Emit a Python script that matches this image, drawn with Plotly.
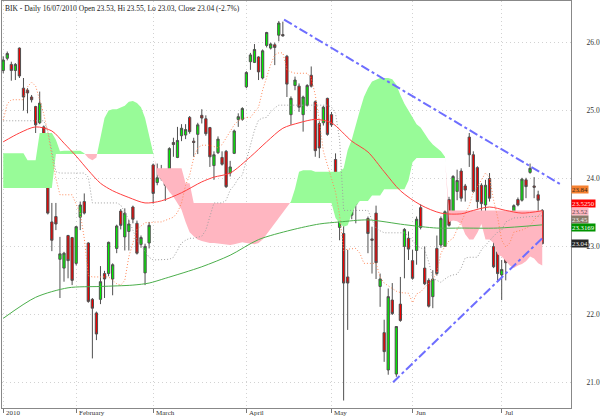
import plotly.graph_objects as go

# ---------------- data ----------------
tick_idx = [0, 18, 37, 60, 81, 101, 123]
tick_text = ["2010", "February", "March", "April", "May", "Jun", "Jul"]
y_ticks = [21, 22, 23, 24, 25, 26]
y_tick_text = ["21.0", "22.0", "23.0", "24.0", "25.0", "26.0"]

opens = [
    25.59, 25.77, 25.68, 25.59, 25.92, 25.33, 25.30, 25.20, 25.06, 24.82,
    24.76, 24.36, 23.36, 23.44, 22.81, 22.68, 23.16, 23.13, 22.75, 23.43,
    23.66, 23.05, 22.22, 22.02, 22.22, 22.60, 22.60, 22.52, 22.97, 23.52,
    23.14, 23.22, 23.58, 23.34, 23.03, 22.61, 23.05, 24.20, 23.94, 24.10,
    24.04, 24.14, 24.53, 24.31, 24.63, 24.64, 24.90, 24.55, 24.65, 24.93,
    24.88, 24.75, 24.19, 24.38, 24.31, 24.40, 24.08, 24.37, 24.87, 24.87,
    25.35, 25.72, 25.71, 25.79, 25.48, 25.96, 25.92, 25.97, 26.11, 26.12,
    25.80, 24.94, 25.37, 25.36, 24.94, 25.08, 25.52, 25.13, 24.81, 24.82,
    25.18, 24.94, 24.28, 23.28, 23.19, 22.55, 23.46, 23.68, 23.86, 24.05,
    23.41, 23.11, 23.49, 22.41, 21.73, 21.18, 22.21, 21.12, 22.15, 23.00,
    23.12, 22.79, 22.94, 23.57, 22.68, 22.50, 22.26, 22.97, 23.02, 23.00,
    23.69, 23.49, 23.81, 24.11, 23.89, 24.61, 24.35, 24.16, 23.90, 23.61,
    24.00, 23.00, 22.92, 22.58, 22.87, 23.41, 22.85, 23.69, 23.68, 23.98,
    24.09, 23.89, 23.76, 23.53]
highs = [
    25.80, 25.87, 25.72, 25.70, 25.93, 25.48, 25.33, 25.23, 25.07, 25.28,
    24.78, 24.37, 23.64, 23.64, 23.14, 22.92, 23.17, 23.14, 23.30, 23.66,
    23.78, 23.06, 22.24, 22.04, 22.71, 22.64, 23.07, 22.75, 23.32, 23.55,
    23.56, 23.39, 23.60, 23.38, 23.16, 23.04, 23.36, 24.22, 24.22, 24.20,
    24.06, 24.46, 24.60, 24.76, 24.80, 24.80, 24.92, 24.60, 24.82, 25.02,
    24.93, 24.76, 24.40, 24.62, 24.40, 24.42, 24.26, 24.72, 24.96, 25.05,
    25.58, 25.85, 25.98, 25.80, 25.90, 26.16, 26.00, 26.00, 26.32, 26.31,
    25.82, 25.21, 25.50, 25.40, 25.22, 25.39, 25.65, 25.15, 24.85, 25.07,
    25.19, 24.98, 24.37, 23.49, 23.40, 22.95, 24.17, 23.93, 24.09, 24.10,
    23.44, 23.29, 23.60, 22.60, 21.92, 22.38, 22.46, 21.82, 22.55, 23.27,
    23.22, 22.95, 23.44, 23.62, 23.00, 22.53, 22.65, 23.16, 23.44, 23.53,
    23.73, 24.05, 24.13, 24.15, 23.92, 24.67, 24.40, 24.18, 23.93, 23.98,
    24.08, 23.26, 22.95, 22.80, 22.90, 23.45, 23.62, 23.72, 24.01, 24.01,
    24.22, 24.02, 23.82, 23.55]
lows = [
    25.55, 25.74, 25.44, 25.45, 25.48, 25.00, 24.96, 25.12, 24.67, 24.80,
    24.23, 23.47, 22.93, 23.24, 22.24, 22.48, 22.53, 22.43, 22.72, 23.24,
    23.47, 22.17, 21.35, 21.62, 22.15, 22.24, 22.56, 22.28, 22.90, 23.25,
    22.94, 22.94, 23.34, 22.88, 22.98, 22.43, 22.97, 23.63, 23.90, 23.97,
    23.67, 24.11, 24.32, 24.30, 24.55, 24.58, 24.66, 24.32, 24.36, 24.81,
    24.63, 24.17, 23.98, 24.36, 24.19, 23.86, 24.03, 24.36, 24.76, 24.85,
    25.33, 25.60, 25.70, 25.45, 25.46, 25.93, 25.90, 25.67, 26.02, 26.09,
    25.20, 24.79, 25.30, 24.98, 24.69, 25.06, 25.34, 24.32, 24.30, 24.78,
    24.63, 24.76, 23.66, 23.09, 20.73, 21.77, 23.40, 23.34, 23.84, 23.70,
    22.90, 22.60, 22.52, 22.11, 21.30, 21.11, 21.99, 21.08, 21.89, 22.53,
    22.80, 22.51, 22.73, 23.25, 22.43, 22.10, 22.09, 22.57, 22.98, 23.00,
    23.29, 23.47, 23.68, 23.66, 23.66, 24.17, 23.79, 23.56, 23.51, 23.51,
    23.66, 22.68, 22.50, 22.21, 22.50, 23.04, 22.84, 23.59, 23.66, 23.71,
    24.07, 23.71, 23.44, 23.03]
closes = [
    25.745, 25.84, 25.59, 25.68, 25.51, 25.20, 25.26, 25.16, 24.79, 25.11,
    24.52, 23.49, 23.09, 23.33, 22.89, 22.90, 22.79, 22.50, 23.29, 23.61,
    23.49, 22.19, 22.09, 21.71, 22.48, 22.52, 23.06, 22.73, 23.30, 23.31,
    23.49, 23.33, 23.40, 22.90, 23.13, 23.00, 23.31, 23.78, 24.01, 24.00,
    23.90, 24.44, 24.50, 24.56, 24.74, 24.72, 24.69, 24.53, 24.79, 24.89,
    24.66, 24.32, 24.35, 24.58, 24.21, 23.88, 24.17, 24.70, 24.91, 25.03,
    25.56, 25.82, 25.90, 25.57, 25.88, 26.15, 25.98, 25.93, 26.29, 26.10,
    25.39, 25.18, 25.45, 25.05, 25.20, 25.37, 25.36, 24.41, 24.45, 25.05,
    24.65, 24.79, 23.79, 23.38, 22.46, 22.46, 24.15, 23.62, 24.08, 23.78,
    23.19, 23.09, 22.76, 22.52, 21.45, 22.26, 22.01, 21.82, 21.91, 23.25,
    22.96, 22.53, 23.40, 23.28, 22.45, 22.12, 22.52, 22.60, 23.41, 23.51,
    23.31, 24.03, 23.97, 23.71, 23.83, 24.35, 23.81, 23.66, 23.63, 23.90,
    23.71, 22.70, 22.60, 22.66, 22.76, 23.06, 23.60, 23.61, 23.99, 23.88,
    24.15, 23.87, 23.68, 23.04]

tenkan = [
    24.86, 25.10, 25.16, 25.16, 25.16, 25.16, 25.35, 25.42, 25.36, 25.16,
    24.95, 24.68, 24.35, 24.00, 23.76, 23.76, 23.76, 23.76, 23.62, 23.49,
    23.12, 22.57, 22.55, 22.55, 22.55, 22.55, 22.55, 22.50, 22.45, 22.43,
    22.50, 22.85, 23.05, 23.25, 23.30, 23.35, 23.35, 23.36, 23.36, 23.36,
    23.38, 23.40, 23.43, 23.50, 23.64, 23.90, 24.05, 24.30, 24.45, 24.49,
    24.49, 24.49, 24.47, 24.45, 24.50, 24.60, 24.70, 24.79, 24.85, 24.88,
    24.90, 24.90, 24.98, 25.05, 25.30, 25.50, 25.68, 25.82, 25.85, 25.85,
    25.60, 25.57, 25.55, 25.55, 25.55, 25.55, 25.48, 25.23, 24.85, 24.40,
    24.20, 24.00, 23.80, 23.46, 22.94, 22.96, 22.97, 22.97, 22.90, 22.75,
    22.75, 22.75, 22.75, 22.55, 22.46, 22.42, 22.38, 22.34, 22.32, 22.31,
    22.31, 22.17, 22.30, 22.33, 22.39, 22.45, 22.52, 22.61, 22.90, 23.00,
    23.08, 23.12, 23.25, 23.35, 23.49, 23.60, 23.80, 23.88, 23.98, 24.08,
    24.02, 23.68, 23.43, 23.09, 22.99, 23.05, 23.21, 23.22, 23.24, 23.27,
    23.30, 23.39, 23.45, 23.51]

kijun = [
    24.85, 24.85, 24.85, 24.85, 24.85, 24.85, 24.85, 24.85, 24.85, 24.85,
    24.85, 24.71, 24.41, 24.10, 24.08, 24.08, 24.08, 24.08, 24.08, 24.08,
    24.08, 24.02, 23.64, 23.64, 23.64, 23.64, 23.64, 23.64, 23.64, 23.61,
    23.50, 23.39, 23.24, 23.09, 23.02, 22.92, 22.84, 22.80, 22.80, 22.80,
    22.81, 22.81, 22.84, 22.95, 23.05, 23.09, 23.12, 23.12, 23.14, 23.15,
    23.24, 23.46, 23.64, 23.64, 23.64, 23.68, 23.83, 23.90, 24.00, 24.05,
    24.27, 24.46, 24.71, 24.86, 24.89, 24.90, 24.98, 25.04, 25.08, 25.08,
    25.08, 25.08, 25.08, 25.08, 25.08, 25.08, 25.08, 25.08, 25.08, 25.08,
    25.08, 25.05, 24.96, 24.57, 23.53, 23.53, 23.53, 23.53, 23.53, 23.53,
    23.53, 23.39, 23.27, 23.23, 23.20, 23.20, 23.20, 23.20, 23.20, 23.20,
    23.15, 23.09, 23.01, 22.98, 22.95, 22.77, 22.53, 22.50, 22.47, 22.52,
    22.56, 22.58, 22.59, 22.68, 22.83, 22.84, 22.84, 22.84, 22.95, 23.02,
    23.09, 23.15, 23.21, 23.24, 23.36, 23.39, 23.42, 23.42, 23.43, 23.43,
    23.44, 23.44, 23.45, 23.45]

span_a = [
    24.37, 24.37, 24.37, 24.37, 24.37, 24.37, 24.27, 24.27, 24.27, 24.67,
    24.67, 24.67, 24.67, 24.57, 24.40, 24.41, 24.41, 24.41, 24.41, 24.41,
    24.37, 24.30, 24.27, 24.31, 24.62, 24.89, 25.00, 25.02, 25.02, 25.04,
    25.07, 25.13, 25.14, 25.11, 25.05, 24.89, 24.64, 24.42, 24.05, 23.98,
    23.89, 23.80, 23.73, 23.64, 23.54, 23.36, 23.21, 23.15, 23.10, 23.08,
    23.06, 23.05, 23.05, 23.04, 23.03, 23.02, 23.02, 23.03, 23.05, 23.06,
    23.05, 23.04, 23.03, 23.05, 23.10, 23.18, 23.26, 23.34, 23.42, 23.50,
    23.58, 23.66, 23.85, 24.10, 24.12, 24.12, 24.12, 24.10, 24.10, 24.10,
    24.10, 24.10, 24.10, 24.10, 24.15, 24.42, 24.57, 24.80, 25.00, 25.20,
    25.33, 25.43, 25.46, 25.48, 25.48, 25.48, 25.46, 25.38, 25.23, 25.10,
    25.00, 24.90, 24.80, 24.75, 24.65, 24.57, 24.50, 24.45, 24.40, 24.32,
    23.36, 23.38, 23.37, 23.33, 23.18, 23.10, 23.10, 23.20, 23.33, 23.10,
    23.10, 23.05, 22.88, 22.85, 22.78, 22.72, 22.68, 22.72, 22.74, 22.78,
    22.85, 22.82, 22.75, 22.72]

span_b = [
    23.86, 23.86, 23.86, 23.86, 23.86, 23.86, 23.86, 23.86, 23.86, 23.86,
    23.86, 23.86, 23.86, 24.36, 24.36, 24.36, 24.36, 24.36, 24.36, 24.36,
    24.36, 24.36, 24.36, 24.36, 24.36, 24.36, 24.36, 24.36, 24.36, 24.36,
    24.36, 24.36, 24.36, 24.36, 24.36, 24.36, 24.36, 24.36, 24.15, 24.15,
    24.15, 24.15, 24.15, 24.15, 24.15, 23.93, 23.93, 23.64, 23.64, 23.64,
    23.64, 23.64, 23.64, 23.64, 23.64, 23.64, 23.64, 23.64, 23.64, 23.64,
    23.64, 23.64, 23.64, 23.64, 23.64, 23.64, 23.64, 23.64, 23.64, 23.64,
    23.64, 23.64, 23.64, 23.64, 23.64, 23.64, 23.64, 23.64, 23.64, 23.64,
    23.64, 23.64, 23.42, 23.34, 23.29, 23.31, 23.48, 23.60, 23.67, 23.67,
    23.67, 23.75, 23.75, 23.75, 23.84, 23.84, 23.84, 23.84, 23.84, 23.84,
    23.97, 24.24, 24.30, 24.30, 24.30, 24.30, 24.30, 24.30, 24.30, 24.30,
    23.53, 23.53, 23.53, 23.53, 23.53, 23.53, 23.53, 23.53, 23.53, 23.53,
    23.53, 23.53, 23.53, 23.53, 23.53, 23.53, 23.53, 23.53, 23.53, 23.53,
    23.53, 23.53, 23.53, 23.53]

ma_red_x = [0, 4, 8, 12, 15, 18, 21, 24, 27, 31, 35, 39, 44, 49, 52, 56, 61, 65,
            69, 73, 77, 81, 86, 90, 94, 98, 103, 108, 113, 116, 120, 124, 128, 133]
ma_red_y = [24.54, 24.67, 24.76, 24.70, 24.52, 24.33, 24.12, 23.93, 23.82, 23.72,
            23.64, 23.67, 23.79, 23.95, 24.02, 24.08, 24.32, 24.54, 24.74, 24.82,
            24.87, 24.82, 24.55, 24.39, 24.10, 23.82, 23.61, 23.49, 23.48, 23.53,
            23.58, 23.53, 23.49, 23.525]
ma_green_x = [0, 8, 16, 24, 32, 36, 40, 49, 56, 63, 71, 78, 83, 90, 99, 107, 113, 122, 133]
ma_green_y = [21.94, 22.25, 22.39, 22.41, 22.43, 22.46, 22.53, 22.70, 22.87, 23.10,
              23.24, 23.33, 23.36, 23.39, 23.32, 23.27, 23.27, 23.27, 23.317]

trend_down_x = [69.3, 137.9]
trend_down_y = [26.34, 23.90]
trend_up_x = [96.2, 133.0]
trend_up_y = [21.00, 23.12]

label_vals = [23.84, 23.525, 23.52, 23.45, 23.3169, 23.04]
label_texts = ["23.84", "23.5250", "23.52", "23.45", "23.3169", "23.04"]
label_bg = ["#F5802F", "#FF0000", "#FFB6C1", "#8A7A6A", "#009400", "#262626"]
label_fg = ["#3A2A1A", "#FFE4E4", "#5A4A4A", "#F0F0F0", "#FFFFFF", "#E8E8E8"]

title_text = "BIK - Daily 16/07/2010 Open 23.53, Hi 23.55, Lo 23.03, Close 23.04 (-2.7%)"

# ---------------- figure ----------------
n = min(len(opens), len(highs), len(lows), len(closes))
idx = list(range(n))
YMIN, YMAX = 20.62, 26.614
W, H = 600, 416
M = dict(l=2, r=29, t=1, b=8)
SERIF = "Liberation Serif, Times New Roman, serif"
GREEN_CLOUD = "rgb(152,251,152)"
PINK_CLOUD = "rgb(255,182,193)"
GRID = "#D2D2D2"

fig = go.Figure()

# cloud polygons between span A and span B
m = min(len(span_a), len(span_b))
xs = list(range(m))
pts = []
for i in range(m):
    if i > 0:
        d0 = span_a[i - 1] - span_b[i - 1]
        d1 = span_a[i] - span_b[i]
        if d0 * d1 < 0:
            t = d0 / (d0 - d1)
            xc = xs[i - 1] + t * (xs[i] - xs[i - 1])
            yc = span_a[i - 1] + t * (span_a[i] - span_a[i - 1])
            pts.append((xc, yc, yc, True))
    pts.append((xs[i], span_a[i], span_b[i], False))
runs, cur = [], []
for p in pts:
    cur.append(p)
    if p[3]:
        runs.append(cur)
        cur = [p]
runs.append(cur)
for run in runs:
    if len(run) < 2:
        continue
    s = sum(p[1] - p[2] for p in run)
    col = GREEN_CLOUD if s > 0 else PINK_CLOUD
    px = [p[0] for p in run] + [p[0] for p in reversed(run)]
    py = [p[1] for p in run] + [p[2] for p in reversed(run)]
    fig.add_trace(go.Scatter(x=px, y=py, mode="lines", fill="toself",
                             fillcolor=col, line=dict(width=0, color=col),
                             hoverinfo="skip"))

# ichimoku dotted lines
fig.add_trace(go.Scatter(x=list(range(len(kijun))), y=kijun, mode="lines",
                         line=dict(color="#A0A0A0", width=1, dash="1px,2px")))
fig.add_trace(go.Scatter(x=list(range(len(tenkan))), y=tenkan, mode="lines",
                         line=dict(color="#FF8A5C", width=1, dash="1px,2px")))
# moving averages
fig.add_trace(go.Scatter(x=ma_green_x, y=ma_green_y, mode="lines",
                         line=dict(color="#4CAF4C", width=1, shape="spline", smoothing=0.8)))
fig.add_trace(go.Scatter(x=ma_red_x, y=ma_red_y, mode="lines",
                         line=dict(color="#FF4040", width=1, shape="spline", smoothing=0.8)))
# trend lines
for tx, ty in ((trend_down_x, trend_down_y), (trend_up_x, trend_up_y)):
    fig.add_trace(go.Scatter(x=tx, y=ty, mode="lines",
                             line=dict(color="#6E6EFF", width=2, dash="dashdot")))

# candles
fig.add_trace(go.Candlestick(
    x=idx, open=opens[:n], high=highs[:n], low=lows[:n], close=closes[:n],
    increasing=dict(fillcolor="#00EE00", line=dict(color="#505050", width=1)),
    decreasing=dict(fillcolor="#EE0000", line=dict(color="#505050", width=1)),
    whiskerwidth=0))

annotations = []
annotations.append(dict(x=0, y=1, xref="paper", yref="paper", xanchor="left", yanchor="top",
                        xshift=1, yshift=-1, showarrow=False, text=title_text,
                        font=dict(family=SERIF, size=7.5, color="#222222")))
for t, s in zip(tick_idx, tick_text):
    annotations.append(dict(x=t, y=0, xref="x", yref="paper", xanchor="left", yanchor="top",
                            xshift=1, yshift=1, showarrow=False, text=s,
                            font=dict(family=SERIF, size=7, color="#333333")))

# right-side value tags, stacked to avoid overlap
plot_h = H - M["t"] - M["b"]
ppu = plot_h / (YMAX - YMIN)
order = sorted(range(len(label_vals)), key=lambda k: -label_vals[k])
ideal = [(YMAX - label_vals[k]) * ppu for k in order]
SP = 7.9
groups = [[i] for i in range(len(order))]


def place(g):
    c = sum(ideal[i] for i in g) / len(g)
    return [c + (j - (len(g) - 1) / 2) * SP for j in range(len(g))]


changed = True
while changed:
    changed = False
    for gi in range(len(groups) - 1):
        a = place(groups[gi])
        b = place(groups[gi + 1])
        if b[0] - a[-1] < SP:
            groups[gi] = groups[gi] + groups[gi + 1]
            del groups[gi + 1]
            changed = True
            break
final = {}
for g in groups:
    for i, p in zip(g, place(g)):
        final[order[i]] = YMAX - p / ppu
for k in range(len(label_vals)):
    annotations.append(dict(x=1, y=final[k], xref="paper", yref="y", xanchor="left",
                            yanchor="middle", showarrow=False, text=label_texts[k],
                            bgcolor=label_bg[k], borderpad=0,
                            font=dict(family=SERIF, size=6.8, color=label_fg[k])))

fig.update_layout(
    width=W, height=H, margin=M,
    paper_bgcolor="white", plot_bgcolor="white", showlegend=False,
    boxgap=0.2,
    annotations=annotations,
    xaxis=dict(range=[-0.3, 140.1], tickvals=tick_idx, showticklabels=False,
               ticks="outside", ticklen=4, tickcolor="#777777", tickwidth=1,
               showgrid=True, gridcolor=GRID, griddash="1px,3px", gridwidth=1,
               showline=True, linecolor="#888888", linewidth=1, mirror=True,
               zeroline=False, rangeslider=dict(visible=False), fixedrange=True,
               automargin=False),
    yaxis=dict(side="right", range=[YMIN, YMAX], tickvals=y_ticks, ticktext=y_tick_text,
               showgrid=True, gridcolor=GRID, griddash="1px,3px", gridwidth=1,
               showline=True, linecolor="#888888", linewidth=1, mirror=True,
               zeroline=False, ticks="", ticklabelstandoff=13, automargin=False,
               fixedrange=True,
               tickfont=dict(family=SERIF, size=7.5, color="#333333")),
)

fig.write_html(
    "out.html",
    config={"displayModeBar": False, "staticPlot": False},
    post_script="document.body.style.margin='0';document.body.style.padding='0';"
                "document.body.style.overflow='hidden';",
)
